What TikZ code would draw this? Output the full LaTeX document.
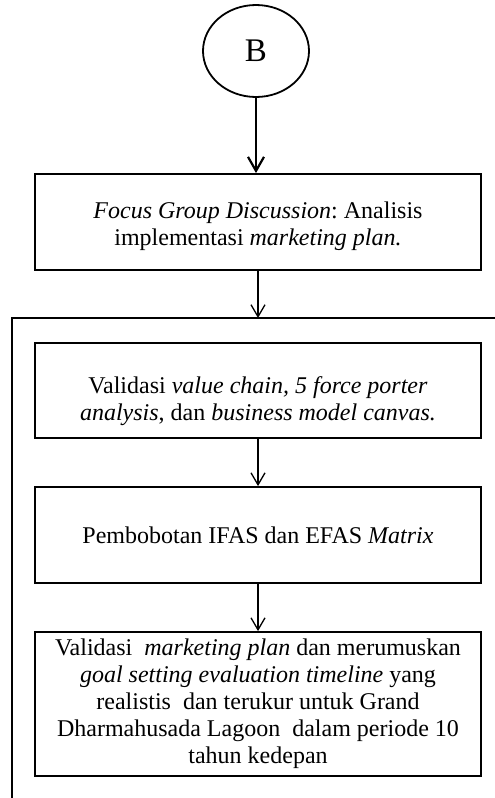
\documentclass[tikz,border=0pt]{standalone}
\usepackage{fontspec}
\setmainfont{Liberation Serif}
\usetikzlibrary{shapes.geometric,arrows.meta}
\frenchspacing

\tikzset{
  stepbox/.style={draw, rectangle, line width=1.8pt, minimum width=446pt, inner sep=0pt,
    align=center, font=\fontsize{24}{27}\selectfont},
  flow/.style={-{Straight Barb[length=12pt,width=14pt]}, line width=1.3pt},
}

\begin{document}
\begin{tikzpicture}[x=1pt,y=-1pt]
      \useasboundingbox (0,0) rectangle (495,798);

      \node[draw, ellipse, line width=1.8pt, minimum width=106pt, minimum height=92pt,
        font=\fontsize{33}{36}\selectfont] (B) at (256,51) {B};

      \node[stepbox, minimum height=96pt] (b1) at (258,222)
        {\rule{0pt}{25pt}\textit{Focus Group Discussion}: Analisis\\implementasi \textit{marketing plan.}};
      \node[stepbox, minimum height=95pt] (b2) at (258,390.5)
        {\rule{0pt}{38pt}Validasi \textit{value chain, 5 force porter}\\\textit{analysis}, dan \textit{business model canvas.}};
      \node[stepbox, minimum height=96pt] (b3) at (258,535)
        {Pembobotan IFAS dan EFAS \textit{Matrix}};
      \node[stepbox, minimum height=144pt] (b4) at (258,704)
        {Validasi \ \textit{marketing plan} dan merumuskan\\\textit{goal setting evaluation timeline} yang\\realistis \ dan terukur untuk Grand\\Dharmahusada Lagoon \ dalam periode 10\\tahun kedepan};

      % open frame round the lower steps
      \coordinate (fr1) at (495,318);
      \coordinate (fr2) at (12,318);
      \coordinate (fr3) at (12,798);
      \coordinate (ftop) at (258,318);
      \draw[line width=1.8pt] (fr1) -- (fr2) -- (fr3);

      \draw[flow, line width=2.2pt, -{Straight Barb[length=14pt,width=16pt]}] (B.south) -- (B.south |- b1.north);
      \draw[flow] (b1.south) -- (ftop);
      \draw[flow] (b2) -- (b3);
      \draw[flow] (b3) -- (b4);
\end{tikzpicture}
\end{document}
